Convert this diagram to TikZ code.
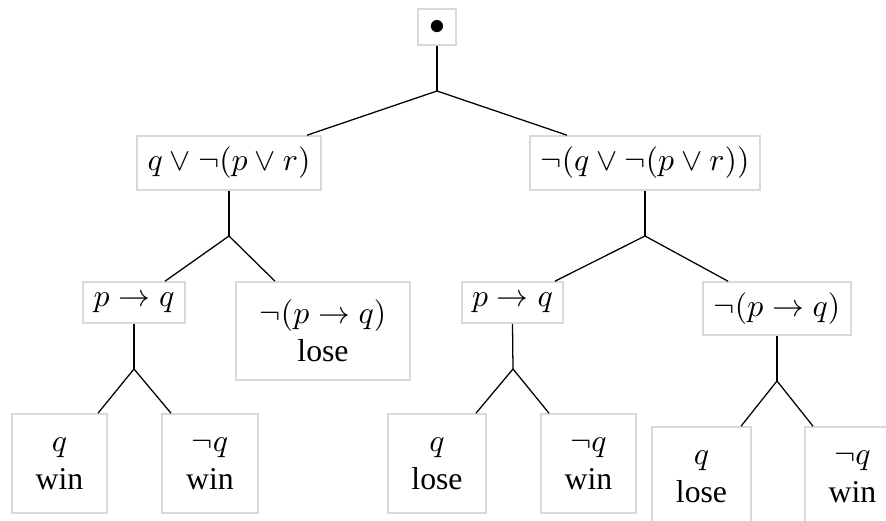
\documentclass[tikz,border=0pt]{standalone}
\usepackage{amsmath,amssymb}
\usepackage{fontspec}
\setmainfont{Liberation Serif}
\usepackage{tikz}
\newcommand{\pxu}{0.315pt}
\tikzset{
  box/.style  ={draw=gray!30, line width=0.5pt, inner sep=0pt, align=center},
  size/.style 2 args={minimum width=#1*\pxu, minimum height=#2*\pxu},
  leaf/.style ={box, size={95}{99}},
  edge/.style ={draw=black, line width=0.4pt}
}

\begin{document}
\begin{tikzpicture}[x=\pxu, y=-\pxu]
    \useasboundingbox (0,0) rectangle (886,521);
    % root and first level
    \node[box, size={38}{36}] (root) at (437,27) {$\bullet$};
    \node[box, size={184}{54}] (L) at (229,163) {$q \vee \neg(p \vee r)$};
    \node[box, size={230}{54}] (R) at (645,163) {$\neg(q \vee \neg(p \vee r))$};
    % second level
    \node[box, size={102}{41}] (LL) at (134,302.5) {$p \rightarrow q$};
    \node[box, size={174}{98}] (LR) at (323,331) {$\neg(p \rightarrow q)$\\lose};
    \node[box, size={101}{41}] (RL) at (512.5,302.5) {$p \rightarrow q$};
    \node[box, size={148}{53}] (RR) at (777,308.5) {$\neg(p \rightarrow q)$};
    % leaves
    \node[leaf] (LLL) at (59.5,463.5) {$q$\\win};
    \node[leaf, size={96}{99}] (LLR) at (210,463.5) {$\neg q$\\win};
    \node[leaf, size={98}{99}] (RLL) at (437,463.5) {$q$\\lose};
    \node[leaf] (RLR) at (588.5,463.5) {$\neg q$\\win};
    \node[leaf, size={99}{99}] (RRL) at (701.5,476.5) {$q$\\lose};
    \node[leaf] (RRR) at (852.5,476.5) {$\neg q$\\win};
    % branch points
    \coordinate (broot) at (437,91);
    \coordinate (bL) at (229,236);
    \coordinate (bR) at (645,236);
    \coordinate (bLL) at (134,369);
    \coordinate (bRL) at (513,369);
    \coordinate (bRR) at (777,381);
    % edges
    \draw[edge] (root.south) -- (broot);
    \draw[edge] ([xshift=78*\pxu]L.north) -- (broot) -- ([xshift=-78*\pxu]R.north);
    \draw[edge] (L.south) -- (bL);
    \draw[edge] ([xshift=31*\pxu]LL.north) -- (bL) -- ([xshift=-48*\pxu]LR.north);
    \draw[edge] (R.south) -- (bR);
    \draw[edge] ([xshift=42.5*\pxu]RL.north) -- (bR) -- ([xshift=-49*\pxu]RR.north);
    \draw[edge] (LL.south) -- (bLL);
    \draw[edge] ([xshift=38.5*\pxu]LLL.north) -- (bLL) -- ([xshift=-39*\pxu]LLR.north);
    \draw[edge] (RL.south) -- (bRL);
    \draw[edge] ([xshift=39*\pxu]RLL.north) -- (bRL) -- ([xshift=-39.5*\pxu]RLR.north);
    \draw[edge] (RR.south) -- (bRR);
    \draw[edge] ([xshift=39.5*\pxu]RRL.north) -- (bRR) -- ([xshift=-39.5*\pxu]RRR.north);
  \end{tikzpicture}
\end{document}
